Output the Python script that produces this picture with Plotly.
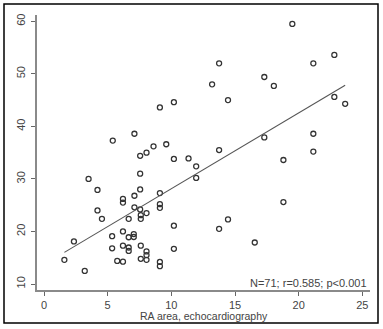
import numpy as np
import plotly.graph_objects as go

# RA area by echocardiography (x) vs. comparison measurement (y)
ra_echo = [1.6, 2.35, 3.2, 3.5, 4.2, 4.2, 4.55, 5.4, 5.35, 5.35, 5.75,
           6.2, 6.2, 6.2, 6.2, 6.2, 6.65, 6.65, 6.65, 6.65,
           7.1, 7.1, 7.1, 7.05, 7.05,
           7.55, 7.55, 7.55, 7.55, 7.6, 7.6, 7.6, 7.6,
           8.05, 8.05, 8.05, 8.05, 8.05,
           8.6, 9.1, 9.1, 9.1, 9.1, 9.1, 9.1, 9.6,
           10.2, 10.2, 10.2, 10.2, 11.35, 11.95, 11.95,
           13.2, 13.75, 13.75, 13.75, 14.45, 14.45,
           16.55, 17.3, 17.3, 18.05, 18.8, 18.8, 19.5,
           21.15, 21.15, 21.15, 22.8, 22.8, 23.65]
ra_other = [14.6, 18.1, 12.5, 30.0, 27.9, 24.0, 22.4, 37.3, 19.1, 16.8, 14.4,
            26.2, 25.5, 20.0, 17.3, 14.25, 22.4, 18.9, 16.95, 16.3,
            38.6, 26.8, 24.6, 19.5, 18.95,
            34.4, 31.0, 28.0, 24.2, 23.1, 22.4, 17.3, 14.8,
            35.0, 23.5, 16.2, 15.5, 14.6,
            36.2, 43.6, 27.3, 25.2, 24.5, 14.2, 13.4, 36.6,
            44.6, 33.8, 21.1, 16.7, 33.9, 32.4, 30.2,
            48.0, 52.0, 35.5, 20.5, 45.0, 22.3,
            17.9, 49.4, 37.9, 47.7, 33.6, 25.6, 59.5,
            52.0, 38.6, 35.2, 53.6, 45.6, 44.3]

x_ticks = [0, 5, 10, 15, 20, 25]
y_ticks = [10, 20, 30, 40, 50, 60]
stats_label = "N=71; r=0.585; p<0.001"
x_title = "RA area, echocardiography"

# least-squares line over the data span
slope, intercept = np.polyfit(ra_echo, ra_other, 1)
fit_x = np.array([min(ra_echo), max(ra_echo)])
fit_y = intercept + slope * fit_x

W, H = 383, 329
ml, mr, mt, mb = 37, 13, 15, 39
pw, ph = W - ml - mr, H - mt - mb


def px_x(p):
    return (p - ml) / pw


def px_y(p):
    return 1 - (p - mt) / ph


fig = go.Figure()
fig.add_trace(go.Scatter(
    x=ra_echo, y=ra_other, mode="markers",
    marker=dict(symbol="circle-open", size=5, color="#333333",
                line=dict(width=1.3, color="#333333")),
    hoverinfo="skip", showlegend=False))
fig.add_trace(go.Scatter(
    x=fit_x, y=fit_y, mode="lines",
    line=dict(color="#555555", width=1.1),
    hoverinfo="skip", showlegend=False))

axis_font = dict(family="Liberation Sans, Arial, sans-serif", size=11, color="#444444")
title_font = dict(family="Liberation Sans, Arial, sans-serif", size=10.5, color="#444444")

fig.update_layout(
    width=W, height=H,
    margin=dict(l=ml, r=mr, t=mt, b=mb, pad=0),
    paper_bgcolor="white", plot_bgcolor="white",
    font=axis_font,
    xaxis=dict(range=[-0.55, 25.6], tickvals=x_ticks, showgrid=False, zeroline=False,
               showline=True, linecolor="#8a8a8a", linewidth=1.6,
               ticks="outside", ticklen=4, tickcolor="#666666", tickwidth=1,
               tickfont=axis_font, ticklabelstandoff=0, automargin=False),
    yaxis=dict(range=[8.86, 61.2], tickvals=y_ticks, showgrid=False, zeroline=False,
               showline=True, linecolor="#8a8a8a", linewidth=1.6,
               ticks="outside", ticklen=4, tickcolor="#666666", tickwidth=1,
               tickangle=-90, tickfont=axis_font, ticklabelstandoff=2,
               automargin=False),
)

# x-axis title, centred under the plot area
fig.add_annotation(x=0.5, y=px_y(316), xref="paper", yref="paper",
                   xanchor="center", yanchor="middle", borderpad=0,
                   text=x_title, showarrow=False, font=title_font)

fig.add_annotation(x=1, y=0, xref="paper", yref="paper", xanchor="right", yanchor="bottom",
                   text=stats_label, showarrow=False, font=axis_font, xshift=-1, yshift=-1)

# outer frame around the whole figure
fig.add_shape(type="rect", xref="paper", yref="paper",
              x0=px_x(4), x1=px_x(378), y0=px_y(323), y1=px_y(4),
              line=dict(color="black", width=1.5), fillcolor="rgba(0,0,0,0)")

fig.write_html("out.html")
